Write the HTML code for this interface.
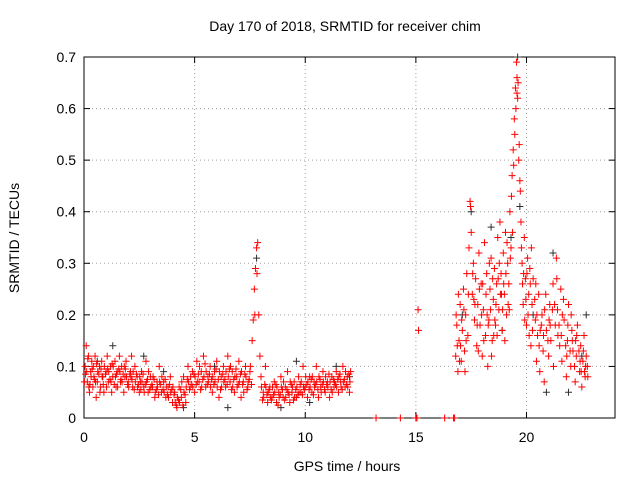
<!DOCTYPE html>
<html><head><meta charset="utf-8"><style>
body{margin:0;background:#fff}
svg{display:block;font-family:"Liberation Sans",sans-serif}
</style></head><body>
<svg id="chart" width="640" height="480">
<text x="345" y="31" font-size="14" text-anchor="middle">Day 170 of 2018, SRMTID for receiver chim</text>
<text x="347" y="471" font-size="14" text-anchor="middle">GPS time / hours</text>
<text transform="translate(19,238) rotate(-90)" font-size="14" text-anchor="middle">SRMTID / TECUs</text>
<g id="grid"></g><g id="axes"></g><g id="marks"></g>
</svg>
<script>
const xTicks=[0,5,10,15,20];
const yTicks=[0,0.1,0.2,0.3,0.4,0.5,0.6,0.7];
const yTickLabels=["0","0.1","0.2","0.3","0.4","0.5","0.6","0.7"];
const redLowA=[[0.05,.10],[0.1,.14],[0.15,.07],[0.2,.12],[0.25,.05],[0.3,.09],[0.35,.11],[0.4,.06],[0.45,.08],[0.5,.12],[0.55,.04],[0.6,.07],[0.7,.10],[0.75,.06],[0.8,.11],[0.85,.08],[0.9,.05],[1.0,.09],[1.05,.12],[1.1,.07],[1.2,.10],[1.25,.05],[1.3,.08],[1.4,.11],[1.45,.06],[1.5,.09],[1.6,.12],[1.65,.07],[1.7,.10],[1.8,.05],[1.85,.08],[1.9,.11],[2.0,.07],[2.1,.09],[2.15,.12],[2.2,.06],[2.3,.10],[2.4,.08],[2.5,.05],[2.55,.07],[2.6,.09],[2.7,.06],[2.8,.11],[2.9,.05],[3.0,.08],[3.1,.06],[3.2,.04],[3.3,.07],[3.4,.10],[3.5,.05],[3.6,.07],[3.7,.04],[3.8,.06],[3.9,.08],[4.0,.03],[4.1,.05],[4.2,.02],[4.3,.06],[4.4,.04],[4.5,.08],[4.6,.03],[4.7,.10],[4.8,.06],[4.9,.09],[5.0,.05],[5.1,.11],[5.2,.07],[5.3,.09],[5.4,.12],[5.5,.06],[5.6,.08],[5.7,.10],[5.8,.05],[5.9,.09],[6.0,.11],[6.1,.04],[6.2,.08],[6.3,.10],[6.4,.06],[6.5,.12],[6.6,.07],[6.7,.09],[6.8,.05],[6.9,.08],[7.0,.11],[7.1,.04],[7.2,.07],[7.3,.10],[7.4,.06],[7.5,.09],[7.6,.15],[7.65,.19],[7.7,.25],[7.75,.29],[7.8,.33],[7.85,.34],[7.9,.20],[7.95,.12],[8.0,.08],[8.1,.05],[8.2,.10],[8.3,.03],[8.4,.06],[8.5,.04],[8.6,.07],[8.7,.03],[8.8,.05],[8.9,.08],[9.0,.04],[9.1,.06],[9.2,.09],[9.3,.03],[9.4,.05],[9.5,.07],[9.6,.04],[9.7,.08],[9.8,.05],[9.9,.10],[10.0,.06],[10.1,.04],[10.2,.08],[10.3,.05],[10.4,.07],[10.5,.10],[10.6,.04],[10.7,.06],[10.8,.09],[10.9,.05],[11.0,.07],[11.1,.04],[11.2,.08],[11.3,.06],[11.4,.09],[11.5,.05],[11.6,.07],[11.7,.10],[11.8,.06],[11.9,.08],[12.0,.05],[12.05,.09]];
const redLowB=[[0.02,.07],[0.12,.09],[0.22,.06],[0.32,.08],[0.42,.10],[0.52,.07],[0.62,.09],[0.72,.05],[0.82,.08],[0.92,.10],[1.02,.06],[1.12,.09],[1.22,.07],[1.32,.10],[1.42,.08],[1.52,.06],[1.62,.09],[1.72,.07],[1.82,.10],[1.92,.08],[2.02,.06],[2.12,.08],[2.22,.09],[2.32,.07],[2.42,.06],[2.52,.08],[2.62,.07],[2.72,.05],[2.82,.07],[2.92,.09],[3.02,.06],[3.12,.08],[3.22,.05],[3.32,.06],[3.42,.07],[3.52,.08],[3.62,.05],[3.72,.06],[3.82,.04],[3.92,.05],[4.02,.06],[4.12,.03],[4.22,.04],[4.32,.03],[4.42,.07],[4.52,.05],[4.62,.06],[4.72,.07],[4.82,.08],[4.92,.06],[5.02,.08],[5.12,.07],[5.22,.10],[5.32,.06],[5.42,.08],[5.52,.09],[5.62,.07],[5.72,.06],[5.82,.08],[5.92,.07],[6.02,.06],[6.12,.09],[6.22,.06],[6.32,.07],[6.42,.09],[6.52,.08],[6.62,.10],[6.72,.06],[6.82,.08],[6.92,.06],[7.02,.07],[7.12,.09],[7.22,.05],[7.32,.08],[7.42,.07],[7.52,.10],[8.02,.06],[8.12,.04],[8.22,.06],[8.32,.05],[8.42,.04],[8.52,.06],[8.62,.05],[8.72,.06],[8.82,.04],[8.92,.06],[9.02,.07],[9.12,.04],[9.22,.05],[9.32,.07],[9.42,.06],[9.52,.04],[9.62,.06],[9.72,.05],[9.82,.07],[9.92,.06],[10.02,.08],[10.12,.07],[10.22,.06],[10.32,.08],[10.42,.06],[10.52,.07],[10.62,.08],[10.72,.05],[10.82,.07],[10.92,.08],[11.02,.06],[11.12,.07],[11.22,.05],[11.32,.07],[11.42,.06],[11.52,.08],[11.62,.06],[11.72,.07],[11.82,.09],[11.92,.06],[12.02,.07]];
const redLowC=[[0.07,.085],[0.17,.115],[0.27,.065],[0.37,.095],[0.47,.075],[0.57,.105],[0.67,.085],[0.77,.095],[0.87,.065],[0.97,.085],[1.07,.095],[1.17,.075],[1.27,.105],[1.37,.065],[1.47,.085],[1.57,.095],[1.67,.075],[1.77,.085],[1.87,.095],[1.97,.065],[2.07,.085],[2.17,.075],[2.27,.055],[2.37,.085],[2.47,.065],[2.57,.055],[2.67,.085],[2.77,.065],[2.87,.075],[2.97,.055],[3.07,.065],[3.17,.075],[3.27,.055],[3.37,.045],[3.47,.065],[3.57,.055],[3.67,.075],[3.77,.045],[3.87,.065],[3.97,.055],[4.07,.045],[4.17,.025],[4.27,.035],[4.37,.055],[4.47,.025],[4.57,.045],[4.67,.075],[4.77,.055],[4.87,.065],[4.97,.085],[5.07,.065],[5.17,.085],[5.27,.055],[5.37,.075],[5.47,.105],[5.57,.065],[5.67,.085],[5.77,.075],[5.87,.065],[5.97,.095],[6.07,.075],[6.17,.055],[6.27,.085],[6.37,.075],[6.47,.065],[6.57,.095],[6.67,.055],[6.77,.075],[6.87,.095],[6.97,.065],[7.07,.085],[7.17,.065],[7.27,.085],[7.37,.055],[7.47,.075],[7.57,.065],[7.72,.2],[7.82,.28],[8.07,.035],[8.17,.065],[8.27,.045],[8.37,.055],[8.47,.035],[8.57,.045],[8.67,.065],[8.77,.025],[8.87,.045],[8.97,.055],[9.07,.035],[9.17,.055],[9.27,.045],[9.37,.065],[9.47,.035],[9.57,.055],[9.67,.045],[9.77,.065],[9.87,.045],[9.97,.055],[10.07,.065],[10.17,.055],[10.27,.075],[10.37,.045],[10.47,.065],[10.57,.055],[10.67,.075],[10.77,.065],[10.87,.055],[10.97,.065],[11.07,.085],[11.17,.055],[11.27,.075],[11.37,.065],[11.47,.075],[11.57,.085],[11.67,.055],[11.77,.075],[11.87,.065],[11.97,.085]];
const redIsolated=[[13.2,0],[14.3,0],[15.0,0],[15.05,0],[16.3,0],[16.7,0],[16.75,0],[15.1,.21],[15.12,.17]];
const redHigh=[[16.8,.12],[16.85,.18],[16.9,.09],[16.95,.15],[17.0,.22],[17.05,.11],[17.1,.17],[17.15,.25],[17.2,.13],[17.25,.20],[17.3,.28],[17.35,.16],[17.4,.33],[17.45,.42],[17.5,.36],[17.55,.24],[17.6,.30],[17.65,.19],[17.7,.27],[17.75,.14],[17.8,.22],[17.85,.32],[17.9,.18],[17.95,.26],[18.0,.12],[18.05,.21],[18.1,.34],[18.15,.16],[18.2,.28],[18.25,.10],[18.3,.19],[18.35,.25],[18.4,.31],[18.45,.15],[18.5,.23],[18.55,.29],[18.6,.18],[18.65,.26],[18.7,.35],[18.75,.21],[18.8,.38],[18.85,.28],[18.9,.17],[18.95,.32],[19.0,.24],[19.05,.36],[19.1,.20],[19.15,.30],[19.2,.26],[19.25,.40],[19.3,.33],[19.35,.47],[19.4,.52],[19.45,.58],[19.5,.64],[19.55,.69],[19.6,.62],[19.65,.50],[19.7,.46],[19.75,.38],[19.8,.30],[19.85,.22],[19.9,.35],[19.95,.27],[20.0,.18],[20.05,.31],[20.1,.24],[20.15,.29],[20.2,.14],[20.25,.22],[20.3,.27],[20.4,.19],[20.45,.11],[20.5,.16],[20.55,.24],[20.6,.09],[20.7,.20],[20.75,.13],[20.8,.07],[20.9,.17],[21.0,.12],[21.05,.22],[21.1,.15],[21.2,.26],[21.3,.18],[21.35,.31],[21.4,.21],[21.5,.14],[21.55,.25],[21.6,.11],[21.7,.19],[21.8,.08],[21.85,.15],[21.9,.22],[22.0,.10],[22.05,.17],[22.1,.13],[22.2,.07],[22.25,.12],[22.3,.18],[22.4,.09],[22.45,.14],[22.5,.06],[22.55,.11],[22.6,.16],[22.65,.08],[22.7,.12],[22.75,.10],
[17.47,.41],[19.42,.49],[19.52,.60],[19.62,.65],[19.47,.55],[19.72,.44],[19.57,.66],[19.32,.43],[17.02,.14],[17.22,.09],[17.62,.23],[17.82,.13],[18.02,.26],[18.22,.20],[18.42,.12],[18.62,.22],[18.82,.24],[19.02,.15],[19.22,.21],[20.02,.28],[20.22,.33],[20.42,.26],[20.62,.17],[20.82,.21],[21.02,.19],[21.22,.10],[21.42,.16],[21.62,.20],[21.82,.12],[22.02,.20],[22.22,.15],[22.42,.11],[22.62,.09],[16.82,.20],[16.92,.24],[18.32,.30],[18.52,.16],[18.72,.27],[18.92,.21],[19.12,.34],[19.82,.26],[19.92,.19],[20.12,.16]];
const redHighB=[[16.87,.14],[16.97,.11],[17.07,.19],[17.17,.21],[17.27,.15],[17.37,.24],[17.57,.28],[17.67,.22],[17.77,.18],[17.87,.25],[17.97,.20],[18.07,.15],[18.17,.24],[18.27,.18],[18.37,.21],[18.47,.27],[18.57,.19],[18.67,.16],[18.77,.30],[18.87,.24],[18.97,.26],[19.07,.28],[19.17,.22],[19.27,.31],[19.37,.36],[19.57,.63],[19.67,.53],[19.77,.33],[19.87,.28],[19.97,.23],[20.07,.20],[20.17,.26],[20.27,.17],[20.37,.23],[20.47,.20],[20.57,.14],[20.67,.18],[20.77,.16],[20.87,.24],[20.97,.15],[21.07,.18],[21.17,.21],[21.27,.22],[21.37,.27],[21.47,.18],[21.57,.16],[21.67,.23],[21.77,.14],[21.87,.18],[21.97,.13],[22.07,.15],[22.17,.10],[22.27,.16],[22.37,.13],[22.47,.09],[22.57,.13],[22.67,.10],[22.77,.08]];
const blackPts=[[0.6,.11],[1.3,.14],[2.7,.12],[3.6,.09],[4.5,.02],[5.9,.10],[6.5,.02],[7.8,.31],[8.9,.02],[9.6,.11],[10.2,.03],[11.4,.10],[12.0,.08],[17.5,.40],[18.4,.37],[19.3,.35],[19.6,.70],[19.7,.41],[20.3,.20],[21.2,.32],[21.9,.05],[22.5,.12],[22.7,.20],[20.9,.05],[18.9,.17],[17.1,.20]];

const L=84,R=615,T=57,B=418,xMax=24,yMax=0.7;
const X=v=>L+(R-L)*v/xMax, Y=v=>B-(B-T)*v/yMax;
const NS="http://www.w3.org/2000/svg";
function mk(tag,attrs,parent){const e=document.createElementNS(NS,tag);for(const k in attrs)e.setAttribute(k,attrs[k]);parent.appendChild(e);return e;}
const grid=document.getElementById('grid'),axes=document.getElementById('axes'),marks=document.getElementById('marks');
yTicks.forEach((v,i)=>{
  if(v>0&&v<yMax){const g=mk('line',{x1:L,x2:R,y1:Y(v),y2:Y(v),stroke:'#a0a0a0','stroke-dasharray':'1,3','stroke-width':1},grid);
  
  }
  const t=mk('text',{x:L-8,y:Y(v)+5,'font-size':14,'text-anchor':'end'},axes);t.textContent=yTickLabels[i];
  
  
  mk('line',{x1:L,x2:L+6,y1:Y(v),y2:Y(v),stroke:'#000'},axes);
  mk('line',{x1:R,x2:R-6,y1:Y(v),y2:Y(v),stroke:'#000'},axes);
});
xTicks.forEach(v=>{
  if(v>0){const g=mk('line',{x1:X(v),x2:X(v),y1:T,y2:B,stroke:'#a0a0a0','stroke-dasharray':'1,3','stroke-width':1},grid);
  
  }
  const t=mk('text',{x:X(v),y:B+24,'font-size':14,'text-anchor':'middle'},axes);t.textContent=String(v);
  
  
  mk('line',{x1:X(v),x2:X(v),y1:B,y2:B-6,stroke:'#000'},axes);
  mk('line',{x1:X(v),x2:X(v),y1:T,y2:T+6,stroke:'#000'},axes);
});
const frame=mk('rect',{x:L,y:T,width:R-L,height:B-T,fill:'none',stroke:'#000'},axes);


function plus(p,color,name){
  const x=X(p[0]),y=Y(p[1]);
  const e=mk('path',{d:`M${x-3.5},${y}h7M${x},${y-3.5}v7`,stroke:color,'stroke-width':1,fill:'none'},marks);
  
  
}
blackPts.forEach(p=>plus(p,'#303030','black-point'));
[redLowA,redLowB,redLowC,redIsolated,redHigh,redHighB].forEach(arr=>arr.forEach(p=>plus(p,'#ff0000','red-point')));
</script>
</body></html>
